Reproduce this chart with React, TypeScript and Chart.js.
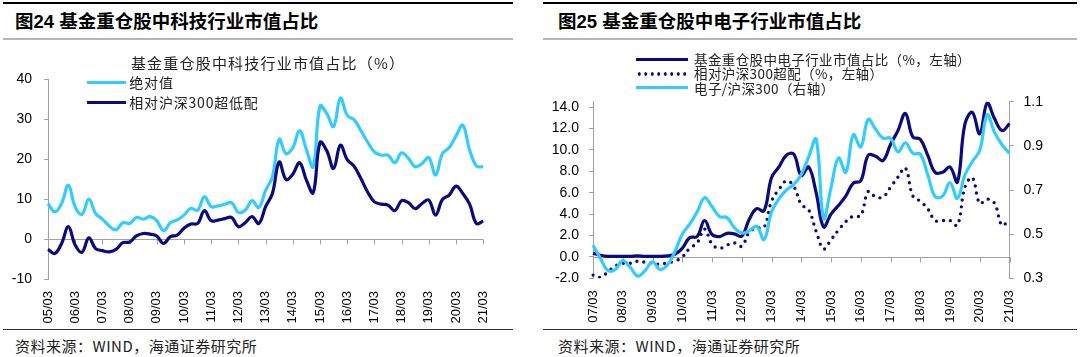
import React, { useEffect, useRef } from 'react';
import { Chart, registerables } from 'chart.js';

Chart.register(...registerables);

// ---------- categories ----------
const LEFT_YEARS = ['05', '06', '07', '08', '09', '10', '11', '12', '13', '14', '15', '16', '17', '18', '19', '20', '21'];
const RIGHT_YEARS = ['07', '08', '09', '10', '11', '12', '13', '14', '15', '16', '17', '18', '19', '20', '21'];
const QUARTERS = ['03', '06', '09', '12'];

// ---------- left chart: tech share (%) ----------
const techAbs = [
  8.9, 6.8, 8.9, 13.5, 8.0, 6.2, 10.0, 6.4, 5.0, 3.3,
  2.3, 4.1, 3.9, 5.4, 5.0, 5.6, 4.6, 2.1, 4.1, 4.8,
  6.0, 7.7, 7.2, 10.6, 8.1, 8.3, 8.7, 9.1, 6.7, 7.2,
  9.6, 7.9, 12.2, 15.6, 25.0, 21.4, 22.9, 27.1, 22.4, 18.1,
  33.3, 31.4, 28.2, 35.3, 31.0, 29.9, 27.2, 24.3, 21.8, 21.0,
  21.0, 19.1, 21.6, 20.2, 18.1, 18.9, 20.4, 16.0, 21.4, 22.9,
  25.8, 28.5, 22.3, 18.3, 18.1,
];
const techRel = [
  -2.6, -3.6, -1.1, 3.1, -1.5, -3.3, 0.3, -2.4, -2.9, -3.2,
  -2.6, -0.9, -0.75, 0.8, 1.4, 1.25, 0.75, -1.1, 0.6, 1.0,
  2.7, 3.75, 3.9, 7.1, 4.6, 4.75, 5.1, 5.4, 3.1, 4.1,
  5.6, 3.9, 8.1, 11.4, 19.3, 14.9, 16.25, 19.1, 14.75, 11.6,
  24.2, 22.1, 17.7, 23.5, 19.9, 18.25, 15.2, 11.8, 9.3, 8.75,
  8.5, 7.1, 9.6, 9.1, 7.6, 8.9, 9.75, 6.0, 9.9, 11.0,
  13.25, 11.4, 8.75, 3.9, 4.5,
];
const LEFT_Y_MIN = -10;
const LEFT_Y_MAX = 40;
const LEFT_Y_STEP = 10;

// ---------- right chart: electronics ----------
const elecShare = [
  0.35, 0.15, 0.05, 0.05, 0.05, 0.05, 0.1, 0.05, 0.05, 0.05,
  0.1, 0.25, 0.8, 1.8, 1.9, 3.4, 2.1, 1.9, 2.2, 2.15,
  1.95, 3.5, 4.5, 4.3, 7.4, 8.4, 9.5, 9.6, 7.6, 8.4,
  6.0, 2.8, 4.0, 4.8, 5.7, 6.9, 7.1, 9.5, 9.4, 9.0,
  10.5, 11.8, 13.4, 11.2, 11.0, 9.5, 7.9, 7.9, 8.4, 7.0,
  12.4, 13.5, 11.5, 14.4, 12.9, 11.8, 12.45,
];
const elecOver = [
  -1.7, -1.9, -1.4, -0.85, -0.6, -0.6, -0.4, -0.5, -0.6, -0.7,
  -0.55, -0.4, 0.0, 0.8, 1.3, 2.6, 1.2, 0.8, 1.1, 1.3,
  1.0, 2.3, 2.7, 2.75, 5.2, 6.3, 7.1, 6.6, 4.9, 4.4,
  2.4, 0.75, 1.6, 2.5, 3.3, 3.8, 3.85, 6.1, 5.6, 5.6,
  6.5, 7.45, 8.3, 5.7, 5.2, 4.5, 3.4, 3.4, 3.4, 2.95,
  6.5, 7.4, 5.0, 5.4, 5.0, 2.95, 3.55,
];
const elecRatio = [
  0.45, 0.39, 0.335, 0.34, 0.38, 0.35, 0.31, 0.335, 0.375, 0.34,
  0.36, 0.42, 0.5, 0.545, 0.6, 0.665, 0.625, 0.58, 0.575, 0.53,
  0.505, 0.515, 0.535, 0.475, 0.6, 0.66, 0.7, 0.725, 0.77, 0.85,
  0.93, 0.572, 0.71, 0.845, 0.78, 0.95, 0.895, 1.02, 0.975, 0.935,
  0.935, 0.873, 0.914, 0.866, 0.862, 0.77, 0.67, 0.672, 0.733, 0.662,
  0.768, 0.828, 0.88, 1.04, 0.96, 0.905, 0.865,
];
const RIGHT_LEFT_TICKS = [-2, 0, 2, 4, 6, 8, 10, 12, 14];
const RIGHT_LEFT_MIN = -2;
const RIGHT_LEFT_MAX = 14.5;
const RIGHT_RIGHT_TICKS = [0.3, 0.5, 0.7, 0.9, 1.1];

// ---------- texts ----------
const LEFT_HEADER = '图24 基金重仓股中科技行业市值占比';
const RIGHT_HEADER = '图25 基金重仓股中电子行业市值占比';
const LEFT_TITLE = '基金重仓股中科技行业市值占比（%）';
const LEFT_LEGEND = ['绝对值', '相对沪深300超低配'];
const RIGHT_LEGEND = ['基金重仓股中电子行业市值占比（%，左轴）', '相对沪深300超配（%，左轴）', '电子/沪深300（右轴）'];
const SOURCE = '资料来源：WIND，海通证券研究所';

// ---------- styles ----------
const NAVY = '#0A0A80';
const CYAN = '#33CCFF';
const GRAY = '#A0A0A0';
const FONT = "'Liberation Sans', Arial, 'Noto Sans CJK SC', sans-serif";
const CJK = "'Noto Sans CJK SC', 'Liberation Sans', sans-serif";

function quarterLabels(years: string[]): string[] {
  const out: string[] = [];
  years.forEach((y, i) => {
    QUARTERS.forEach((q) => {
      if (i === years.length - 1 && q !== '03') return;
      out.push(`${y}/${q}`);
    });
  });
  return out;
}

const zeroAxisPlugin = {
  id: 'zeroAxis',
  beforeDatasetsDraw(chart: any, _args: any, opts: any) {
    const { ctx, chartArea } = chart;
    const yScale = chart.scales[opts.yId];
    const xScale = chart.scales.x;
    const yy = Math.round(yScale.getPixelForValue(0)) + 0.5;
    ctx.save();
    ctx.strokeStyle = GRAY;
    ctx.lineWidth = 1;
    ctx.beginPath();
    ctx.moveTo(chartArea.left, yy);
    ctx.lineTo(chartArea.right, yy);
    const n = chart.data.labels.length;
    for (let i = 0; i < n; i += 4) {
      const px = Math.round(xScale.getPixelForValue(i)) + 0.5;
      ctx.moveTo(px, yy);
      ctx.lineTo(px, yy + 5);
    }
    ctx.stroke();
    ctx.restore();
  },
};

function xAxis(labels: string[], height: number) {
  return {
    type: 'category' as const,
    offset: false,
    grid: { display: false, drawTicks: false },
    border: { display: false },
    ticks: {
      autoSkip: false,
      minRotation: 90,
      maxRotation: 90,
      padding: 12,
      color: '#000',
      font: { family: FONT, size: 13 },
      callback: (_v: any, i: number) => (i % 4 === 0 ? labels[i] : ''),
    },
    afterFit: (s: any) => {
      s.height = height;
    },
  };
}

function LeftChart() {
  const ref = useRef<HTMLCanvasElement>(null);
  useEffect(() => {
    const labels = quarterLabels(LEFT_YEARS);
    const chart = new Chart(ref.current!, {
      type: 'line',
      data: {
        labels,
        datasets: [
          { label: LEFT_LEGEND[0], data: techAbs, borderColor: CYAN, backgroundColor: CYAN, borderWidth: 3.2, order: 1 },
          { label: LEFT_LEGEND[1], data: techRel, borderColor: NAVY, backgroundColor: NAVY, borderWidth: 3.2, order: 0 },
        ],
      },
      options: {
        responsive: false,
        animation: false,
        layout: { padding: { top: 39.3, left: 0, right: 28.8, bottom: 0 } },
        elements: { point: { radius: 0 }, line: { tension: 0.4 } },
        plugins: { legend: { display: false }, tooltip: { enabled: false }, zeroAxis: { yId: 'y' } } as any,
        scales: {
          x: xAxis(labels, 49) as any,
          y: {
            min: LEFT_Y_MIN,
            max: LEFT_Y_MAX,
            ticks: { stepSize: LEFT_Y_STEP, padding: 12, color: '#000', font: { family: FONT, size: 14 } },
            grid: { drawOnChartArea: false, tickLength: 4, color: GRAY },
            border: { color: GRAY },
            afterFit: (s: any) => {
              s.width = 48;
            },
          } as any,
        },
      },
      plugins: [zeroAxisPlugin],
    });
    return () => chart.destroy();
  }, []);
  return <canvas ref={ref} width={512} height={288} style={{ position: 'absolute', left: 0, top: 40, width: 512, height: 288 }} />;
}

function RightChart() {
  const ref = useRef<HTMLCanvasElement>(null);
  useEffect(() => {
    const labels = quarterLabels(RIGHT_YEARS);
    const chart = new Chart(ref.current!, {
      type: 'line',
      data: {
        labels,
        datasets: [
          { label: RIGHT_LEGEND[0], data: elecShare, yAxisID: 'y', borderColor: NAVY, backgroundColor: NAVY, borderWidth: 3.2, order: 1 },
          {
            label: RIGHT_LEGEND[1],
            data: elecOver,
            yAxisID: 'y',
            borderColor: NAVY,
            backgroundColor: NAVY,
            borderWidth: 3.4,
            borderDash: [0, 7],
            borderCapStyle: 'round',
            order: 2,
          },
          { label: RIGHT_LEGEND[2], data: elecRatio, yAxisID: 'y1', borderColor: CYAN, backgroundColor: CYAN, borderWidth: 3.2, order: 0 },
        ],
      },
      options: {
        responsive: false,
        animation: false,
        layout: { padding: { top: 61.7, left: 0, right: 0, bottom: 0 } },
        elements: { point: { radius: 0 }, line: { tension: 0.4 } },
        plugins: { legend: { display: false }, tooltip: { enabled: false }, zeroAxis: { yId: 'y' } } as any,
        scales: {
          x: xAxis(labels, 49.7) as any,
          y: {
            position: 'left',
            min: RIGHT_LEFT_MIN,
            max: RIGHT_LEFT_MAX,
            afterBuildTicks: (s: any) => {
              s.ticks = RIGHT_LEFT_TICKS.map((v) => ({ value: v }));
            },
            ticks: { padding: 10, color: '#000', font: { family: FONT, size: 14 }, callback: (v: any) => Number(v).toFixed(1) },
            grid: { drawOnChartArea: false, tickLength: 4, color: GRAY },
            border: { color: GRAY },
            afterFit: (s: any) => {
              s.width = 50;
            },
          } as any,
          y1: {
            position: 'right',
            min: RIGHT_RIGHT_TICKS[0],
            max: RIGHT_RIGHT_TICKS[RIGHT_RIGHT_TICKS.length - 1],
            afterBuildTicks: (s: any) => {
              s.ticks = RIGHT_RIGHT_TICKS.map((v) => ({ value: v }));
            },
            ticks: { padding: 10, color: '#000', font: { family: FONT, size: 14 }, callback: (v: any) => Number(v).toFixed(1) },
            grid: { drawOnChartArea: false, tickLength: 4, color: GRAY },
            border: { color: GRAY },
            afterFit: (s: any) => {
              s.width = 70.5;
            },
          } as any,
        },
      },
      plugins: [zeroAxisPlugin],
    });
    return () => chart.destroy();
  }, []);
  return <canvas ref={ref} width={537} height={288} style={{ position: 'absolute', left: 543, top: 40, width: 537, height: 288 }} />;
}

function abs(left: number, top: number, extra: React.CSSProperties = {}): React.CSSProperties {
  return { position: 'absolute', left, top, ...extra };
}

function Panel({ x, w, textX, header }: { x: number; w: number; textX: number; header: string }) {
  return (
    <>
      <div style={abs(x, 2, { width: w, height: 2, background: '#000' })} />
      <div style={abs(textX, 9, { height: 25, lineHeight: '25px', fontSize: 18.5, fontWeight: 'bold', fontFamily: FONT, color: '#000', whiteSpace: 'nowrap' })}>
        {header}
      </div>
      <div style={abs(x, 37.5, { width: w, height: 2, background: '#B4B4B4' })} />
      <div style={abs(x, 328.5, { width: w, height: 1.5, background: '#333' })} />
      <div
        style={abs(textX, 336, {
          height: 20,
          lineHeight: '20px',
          fontSize: 15,
          letterSpacing: '0.5px',
          fontFamily: CJK,
          color: '#222',
          whiteSpace: 'nowrap',
        })}
      >
        {SOURCE}
      </div>
    </>
  );
}

export default function App() {
  const legendText: React.CSSProperties = { fontFamily: CJK, color: '#222', whiteSpace: 'nowrap' };
  return (
    <div style={{ position: 'fixed', left: 0, top: 0, width: 1080, height: 357, background: '#fff', overflow: 'hidden' }}>
      <Panel x={3} w={510} textX={15} header={LEFT_HEADER} />
      <Panel x={543} w={534} textX={558} header={RIGHT_HEADER} />

      <LeftChart />
      <RightChart />

      {/* left chart title */}
      <div style={abs(16, 53, { width: 504, textAlign: 'center', height: 20, lineHeight: '20px', fontSize: 15, letterSpacing: '1.2px', ...legendText })}>
        {LEFT_TITLE}
      </div>

      {/* left legend */}
      <div style={abs(86.7, 80.7, { width: 39.3, height: 3.3, background: CYAN })} />
      <div style={abs(129.3, 72.3, { height: 20, lineHeight: '20px', fontSize: 14, letterSpacing: '0.8px', ...legendText })}>{LEFT_LEGEND[0]}</div>
      <div style={abs(86.7, 100.7, { width: 39.3, height: 3.3, background: NAVY })} />
      <div style={abs(129.3, 92.3, { height: 20, lineHeight: '20px', fontSize: 14, letterSpacing: '0.8px', ...legendText })}>{LEFT_LEGEND[1]}</div>

      {/* right legend */}
      <div style={abs(636, 57.6, { width: 52, height: 3.3, background: NAVY })} />
      <div style={abs(694, 50.3, { height: 18, lineHeight: '18px', fontSize: 13.5, letterSpacing: '0.4px', ...legendText })}>{RIGHT_LEGEND[0]}</div>
      <div
        style={abs(636, 71.5, {
          width: 52,
          height: 4,
          backgroundImage: `radial-gradient(circle, ${NAVY} 1.5px, transparent 1.9px)`,
          backgroundSize: '6.5px 4px',
        })}
      />
      <div style={abs(694, 64.3, { height: 18, lineHeight: '18px', fontSize: 13.5, letterSpacing: '0.4px', ...legendText })}>{RIGHT_LEGEND[1]}</div>
      <div style={abs(636, 86, { width: 52, height: 3.3, background: CYAN })} />
      <div style={abs(694, 78.6, { height: 18, lineHeight: '18px', fontSize: 13.5, letterSpacing: '0.4px', ...legendText })}>{RIGHT_LEGEND[2]}</div>
    </div>
  );
}
